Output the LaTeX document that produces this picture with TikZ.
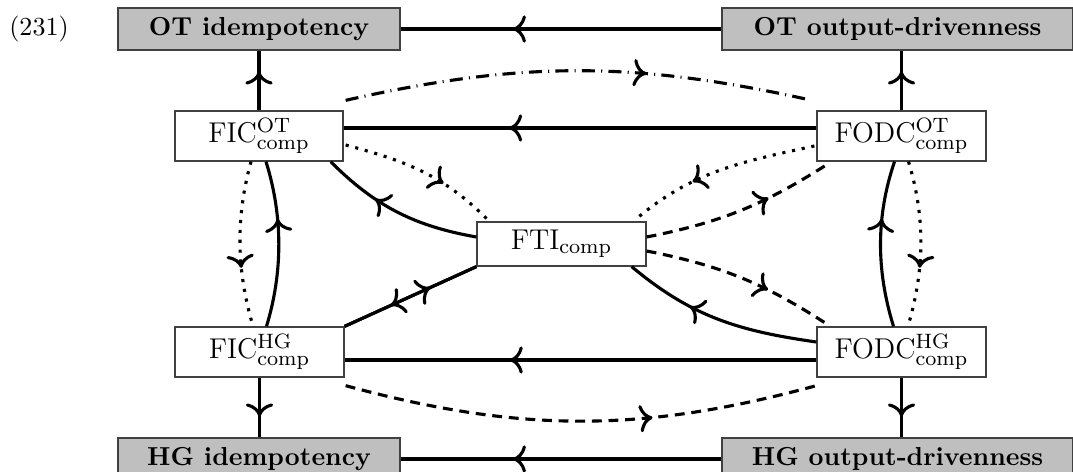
\documentclass[tikz,border=0pt]{standalone}
\usetikzlibrary{calc,decorations.markings,arrows.meta}
\newdimen\px \px=0.3846pt
\begin{document}
\begin{tikzpicture}[x=1\px,y=-1\px,
  box/.style={draw=black!75, line width=0.5pt, fill=white, minimum width=169\px, minimum height=50\px, inner sep=0pt, font=\fontsize{11}{13}\selectfont},
  gbox/.style={draw=black!75, line width=0.5pt, fill=black!25, minimum height=42\px, inner sep=0pt, font=\bfseries},
  conn/.style={line width=1.2pt},
  midarr/.style={postaction={decorate}, decoration={markings, mark=at position #1 with {\arrow{To[length=5pt,width=10.5pt]}}}},
  midarr/.default=0.65,
  dotline/.style={dash pattern=on 1.2pt off 2.6pt},
  dashline/.style={dash pattern=on 3.8pt off 2.6pt},
  dashdotline/.style={dash pattern=on 5pt off 2.4pt on 0.4pt off 2.4pt}]
\useasboundingbox (0,0) rectangle (1073,472);

\node (num) at (39,29) {(231)};
\node[gbox, minimum width=282\px] (otidem) at (259,29) {OT idempotency};
\node[gbox, minimum width=351\px] (otod) at (897.5,29) {OT output-drivenness};
\node[gbox, minimum width=282\px] (hgidem) at (259,459) {HG idempotency};
\node[gbox, minimum width=351\px] (hgod) at (897.5,459) {HG output-drivenness};
\node[box, minimum width=168\px] (ficot) at (259,136) {FIC$^{\mathrm{OT}}_{\mathrm{comp}}$};
\node[box] (fodcot) at (901.5,136) {FODC$^{\mathrm{OT}}_{\mathrm{comp}}$};
\node[box, minimum height=44\px] (fti) at (561.5,244) {FTI$_{\mathrm{comp}}$};
\node[box] (fichg) at (259.5,352) {FIC$^{\mathrm{HG}}_{\mathrm{comp}}$};
\node[box] (fodchg) at (901.5,352) {FODC$^{\mathrm{HG}}_{\mathrm{comp}}$};

% straight solid connectors
\draw[conn, midarr] (otod.west) -- (otidem.east);
\draw[conn, midarr] (hgod.west) -- (hgidem.east);
\draw[conn, midarr] ($(fodcot.west)+(0,-8)$) -- ($(ficot.east)+(0,-8)$);
\draw[conn, midarr] ($(fodchg.west)+(0,8)$) -- ($(fichg.east)+(0,8)$);
\draw[conn, midarr] (ficot.north) -- (otidem.south);
\draw[conn, midarr] (fodcot.north) -- (fodcot.north |- otod.south);
\draw[conn, midarr] (fichg.south) -- (fichg.south |- hgidem.north);
\draw[conn, midarr] (fodchg.south) -- (fodchg.south |- hgod.north);
\draw[conn, midarr] (fti.south west) -- (fichg.north east);
\draw[conn, midarr] (fichg.north east) -- (fti.south west);

% curved solid connectors
\draw[conn, midarr] ($(fti.west)+(0,-7)$) .. controls (414,226) and (375,206) .. ($(ficot.south east)+(-13,0)$);
\draw[conn, midarr] ($(fodchg.west)+(0,-10)$) .. controls (739,331) and (692,317) .. ($(fti.south east)+(-15,0)$);
\draw[conn, midarr] ($(fichg.north)+(7,0)$) .. controls (283,272) and (283,216) .. ($(ficot.south)+(7,0)$);
\draw[conn, midarr] ($(fodchg.north)+(-8,0)$) .. controls (876,270) and (876,216) .. ($(fodcot.south)+(-7,0)$);

% dotted
\draw[conn, dotline, midarr] ($(ficot.east)+(2,9)$) .. controls (406,161) and (443,175) .. ($(fti.north west)+(11,-2)$);
\draw[conn, dotline, midarr] ($(fodcot.west)+(-2,10)$) .. controls (741,162) and (693,171) .. ($(fti.north east)+(-11,-2)$);
\draw[conn, dotline, midarr] ($(ficot.south)+(-8,0)$) .. controls (236,216) and (236,268) .. ($(fichg.north)+(-7,-2)$);
\draw[conn, dotline, midarr] ($(fodcot.south)+(7,0)$) .. controls (925,216) and (925,268) .. ($(fodchg.north)+(7,-2)$);

% dashed
\draw[conn, dashline, midarr] ($(fti.east)+(0,-7)$) .. controls (723,222) and (765,204) .. ($(fodcot.south west)+(12,2)$);
\draw[conn, dashline, midarr] ($(fti.east)+(0,7)$) .. controls (723,266) and (765,284) .. ($(fodchg.north west)+(11,-2)$);
\draw[conn, dashline, midarr] ($(fichg.south east)+(1,8)$) .. controls (520,433) and (642,433) .. ($(fodchg.south west)+(0,8)$);

% dash-dotted
\draw[conn, dashdotline, midarr] ($(ficot.north east)+(2,-10)$) .. controls (520,61) and (633,61) .. ($(fodcot.north west)+(-9,-11)$);
\end{tikzpicture}
\end{document}
